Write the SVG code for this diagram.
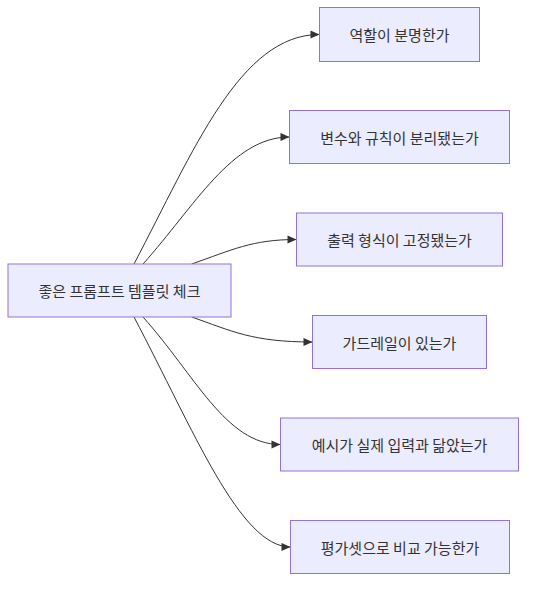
<svg xmlns="http://www.w3.org/2000/svg" width="534" height="590" viewBox="0 0 534 590">
<style>
.node rect{fill:#ECECFF;stroke:#9370DB;stroke-width:1}
.node text{font-family:"Noto Sans CJK KR","Noto Sans",sans-serif;font-size:15px;fill:#333;text-anchor:middle;dominant-baseline:central}
.edge{fill:none;stroke:#333;stroke-width:1;marker-end:url(#arrow)}
</style>
<defs>
<marker id="arrow" viewBox="0 0 10 10" refX="10" refY="5" markerWidth="10" markerHeight="9" markerUnits="userSpaceOnUse" orient="auto">
<path d="M0,0.5 L10,5 L0,9.5 z" fill="#333"/>
</marker>
</defs>
<rect width="534" height="590" fill="#ffffff"/>
<g id="connectors">
<path class="edge" d="M134,264 C194,150 240,34.5 319.5,34.5"/>
<path class="edge" d="M143,264 C195,206 232,137 289.5,137"/>
<path class="edge" d="M191.7,264 C232,250 252,239.5 296.5,239.5"/>
<path class="edge" d="M191.7,317 C232,331 252,342 312.5,342"/>
<path class="edge" d="M143,317 C195,375 226,444.5 280.5,444.5"/>
<path class="edge" d="M134,317 C194,431 240,547 290.5,547"/>
</g>
<g id="root" class="node"><rect x="8" y="264" width="223" height="53"/><text x="119.5" y="290.5">좋은 프롬프트 템플릿 체크</text></g>
<g id="n1" class="node"><rect x="319.5" y="7.5" width="160" height="54"/><text x="399.5" y="34.5">역할이 분명한가</text></g>
<g id="n2" class="node"><rect x="289.5" y="110.5" width="220" height="53"/><text x="399.5" y="137">변수와 규칙이 분리됐는가</text></g>
<g id="n3" class="node"><rect x="296.5" y="213" width="206" height="53"/><text x="399.5" y="239.5">출력 형식이 고정됐는가</text></g>
<g id="n4" class="node"><rect x="312.5" y="315.5" width="174" height="53"/><text x="399.5" y="342">가드레일이 있는가</text></g>
<g id="n5" class="node"><rect x="280.5" y="418" width="238" height="53"/><text x="399.5" y="444.5">예시가 실제 입력과 닮았는가</text></g>
<g id="n6" class="node"><rect x="290.5" y="520.5" width="219" height="53"/><text x="400" y="547">평가셋으로 비교 가능한가</text></g>
</svg>
